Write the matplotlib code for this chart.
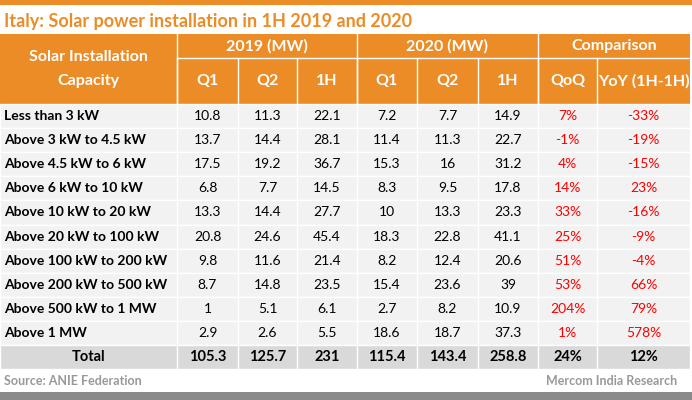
import matplotlib.pyplot as plt
from matplotlib.patches import Rectangle

plt.rcParams["font.family"] = ["Lato", "DejaVu Sans"]

ORANGE = "#ec8c26"
rows = [
    ("Less than 3 kW", 10.8, 11.3, 22.1, 7.2, 7.7, 14.9, "7%", "-33%"),
    ("Above 3 kW to 4.5 kW", 13.7, 14.4, 28.1, 11.4, 11.3, 22.7, "-1%", "-19%"),
    ("Above 4.5 kW to 6 kW", 17.5, 19.2, 36.7, 15.3, 16, 31.2, "4%", "-15%"),
    ("Above 6 kW to 10 kW", 6.8, 7.7, 14.5, 8.3, 9.5, 17.8, "14%", "23%"),
    ("Above 10 kW to 20 kW", 13.3, 14.4, 27.7, 10, 13.3, 23.3, "33%", "-16%"),
    ("Above 20 kW to 100 kW", 20.8, 24.6, 45.4, 18.3, 22.8, 41.1, "25%", "-9%"),
    ("Above 100 kW to 200 kW", 9.8, 11.6, 21.4, 8.2, 12.4, 20.6, "51%", "-4%"),
    ("Above 200 kW to 500 kW", 8.7, 14.8, 23.5, 15.4, 23.6, 39, "53%", "66%"),
    ("Above 500 kW to 1 MW", 1, 5.1, 6.1, 2.7, 8.2, 10.9, "204%", "79%"),
    ("Above 1 MW", 2.9, 2.6, 5.5, 18.6, 18.7, 37.3, "1%", "578%"),
]
total = ("Total", 105.3, 125.7, 231, 115.4, 143.4, 258.8, "24%", "12%")

# column edges in pixels
xs = [0, 177, 238, 297, 357, 417, 478, 538, 597, 690]
y_head, y_sub, y_data = 34, 58, 104
rh = 24.1

fig = plt.figure(figsize=(6.92, 4.0), dpi=100)
ax = fig.add_axes([0, 0, 1, 1])
ax.set_xlim(0, 692)
ax.set_ylim(400, 0)
ax.axis("off")

ax.add_patch(Rectangle((0, 0), 692, 5, color=ORANGE, lw=0))
ax.add_patch(Rectangle((0, 392), 692, 8, color="#8a8a8a", lw=0))
ax.text(4, 21, "Italy: Solar power installation in 1H 2019 and 2020", color=ORANGE,
        fontsize=13, fontweight="bold", va="center")

# header
ax.add_patch(Rectangle((0, y_head), xs[-1], y_data - y_head, color=ORANGE, lw=0))
hf = dict(color="white", fontsize=11.5, fontweight="bold", ha="center", va="center")
ax.text(xs[1] / 2, (y_head + y_data) / 2, "Solar Installation\nCapacity", linespacing=1.9, **hf)
for i, g in enumerate(["2019 (MW)", "2020 (MW)", "Comparison"]):
    x0, x1 = (xs[1 + 3 * i], xs[4 + 3 * i]) if i < 2 else (xs[7], xs[9])
    ax.text((x0 + x1) / 2, (y_head + y_sub) / 2, g, **hf)
    ax.plot([x0, x0], [y_head, y_data], color="white", lw=1)
ax.plot([xs[1], xs[-1]], [y_sub, y_sub], color="white", lw=1)
for j, s in enumerate(["Q1", "Q2", "1H", "Q1", "Q2", "1H", "QoQ", "YoY (1H-1H)"]):
    ax.text((xs[j + 1] + xs[j + 2]) / 2, (y_sub + y_data) / 2, s, **hf)
    ax.plot([xs[j + 1]] * 2, [y_sub, y_data], color="white", lw=1)

# body
for r, row in enumerate(rows + [total]):
    y0 = y_data + r * rh
    is_total = row is total
    ax.add_patch(Rectangle((0, y0), xs[-1], rh, facecolor="#d9d9d9" if is_total else "#f2f2f2",
                           edgecolor="white", lw=1))
    if is_total:
        ax.text(xs[1] / 2, y0 + rh / 2, row[0], fontsize=10.5, fontweight="bold", ha="center", va="center")
    else:
        ax.text(4, y0 + rh / 2, row[0], fontsize=10, fontweight="bold", va="center")
    for j, v in enumerate(row[1:]):
        red = j >= 6 and not is_total
        ax.text((xs[j + 1] + xs[j + 2]) / 2, y0 + rh / 2, str(v),
                fontsize=10.5 if is_total else 10,
                fontweight="bold" if is_total else "normal",
                color="#ff0000" if red else "black", ha="center", va="center")
    for x in xs[1:-1]:
        ax.plot([x, x], [y0, y0 + rh], color="white", lw=1)

ax.text(4, 381, "Source: ANIE Federation", color="#999999", fontsize=9, fontweight="bold", va="center")
ax.text(677, 381, "Mercom India Research", color="#999999", fontsize=9, fontweight="bold",
        va="center", ha="right")

fig.savefig("out.png", dpi=100)
